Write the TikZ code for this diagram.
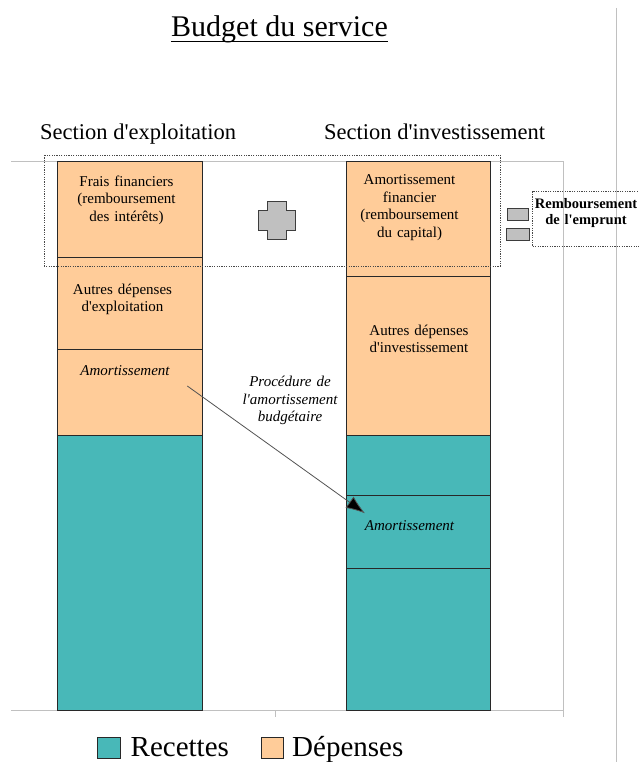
\documentclass[tikz,border=0pt]{standalone}
\usepackage{fontspec}
\setmainfont{Liberation Serif}[Ligatures=TeXOff]
\usetikzlibrary{arrows.meta,calc}
\definecolor{recette}{RGB}{72,184,184}
\definecolor{depense}{RGB}{255,204,153}
\definecolor{axisgray}{RGB}{192,192,192}
\definecolor{symgray}{RGB}{192,192,192}
\definecolor{edge}{RGB}{40,40,40}
\begin{document}
\begin{tikzpicture}[x=1pt,y=-1pt,
  seg/.style={draw=edge,line width=0.8pt},
  depbox/.style={seg,fill=depense},
  recbox/.style={seg,fill=recette},
  axis/.style={draw=axisgray,line width=0.9pt},
  groupframe/.style={draw=edge!85,line width=0.8pt,dash pattern=on 1.2pt off 1.2pt},
  symbol/.style={draw=edge!90,fill=symgray,line width=0.8pt},
  bartext/.style={font=\fontsize{15}{17.5}\selectfont,text width=160pt,align=center,inner sep=0pt,anchor=base},
  headtext/.style={font=\fontsize{22.5}{27}\selectfont,inner sep=0pt,anchor=base west},
  legtext/.style={font=\fontsize{29}{33}\selectfont,inner sep=0pt,anchor=base west},
  flow/.style={draw=edge!80,line width=0.8pt,-{Latex[length=19pt,width=14pt,fill=black]}}
]
\useasboundingbox (0,0) rectangle (639,762);

% page guide on the right
\draw[axis] (616,8) -- (616,762);

% chart frame
\draw[axis] (11,161.7) -- (563,161.7) -- (563,716.7);
\draw[axis] (11,710.7) -- (563,710.7);
\draw[axis] (275,710.7) -- (275,716.7);

% title and section headings
\node[font=\fontsize{30}{36}\selectfont,inner sep=0pt,anchor=base] (title) at (279.5,36.7) {Budget du service};
\draw[line width=1.4pt] ($(title.base west)+(0,5)$) -- ($(title.base east)+(0,5)$);
\node[headtext] (hexpl) at (40,140) {Section d'exploitation};
\node[headtext] (hinv) at (324,140) {Section d'investissement};

% left bar: section d'exploitation
\path[depbox] (57.7,161.7) rectangle (202.3,257.3);
\path[depbox] (57.7,257.3) rectangle (202.3,349.3);
\path[depbox] (57.7,349.3) rectangle (202.3,435.7);
\path[recbox] (57.7,435.7) rectangle (202.3,710.7);

% right bar: section d'investissement
\path[depbox] (346,161.7) rectangle (490,276);
\path[depbox] (346,276) rectangle (490,435.7);
\path[recbox] (346,435.7) rectangle (490,495.7);
\path[recbox] (346,495.7) rectangle (490,568.3);
\path[recbox] (346,568.3) rectangle (490,710.7);

% texts of the left bar
\node[bartext] (frais) at (126.5,186) {Frais financiers\\(remboursement\\des intérêts)};
\node[bartext] (autexp) at (122.5,294) {Autres dépenses\\d'exploitation};
\node[bartext,font=\fontsize{15}{17.5}\selectfont\itshape] (amexp) at (125,375) {Amortissement};

% texts of the right bar
\node[bartext] (amfin) at (409.5,185) {Amortissement\\financier\\(remboursement\\du capital)};
\node[bartext] (autinv) at (419,335) {Autres dépenses\\d'investissement};
\node[bartext,font=\fontsize{15}{17.5}\selectfont\itshape] (aminv) at (409.5,530) {Amortissement};

% grouping of the debt repayment
\draw[groupframe] (44.3,155) rectangle (500.3,266);

% plus sign
\path[symbol] (258.3,210) -- (267.3,210) -- (267.3,201.7) -- (286,201.7) -- (286,210)
  -- (295,210) -- (295,230) -- (286,230) -- (286,239.3) -- (267.3,239.3)
  -- (267.3,230) -- (258.3,230) -- cycle;

% equals sign
\path[symbol] (507.7,208.3) rectangle (528.3,220.7);
\path[symbol] (506.7,228.3) rectangle (529.3,240);

% result box
\draw[groupframe] (645,191.7) -- (532,191.7) -- (532,246) -- (645,246);
\node[bartext,font=\fontsize{14.5}{16.5}\selectfont\bfseries] (remb) at (586,208) {Remboursement\\de l'emprunt};

% budgetary depreciation transfer
\node[bartext,font=\fontsize{15}{17.5}\selectfont\itshape] (proc) at (290,386.7) {Procédure de\\l'amortissement\\budgétaire};
\coordinate (arrS) at (187.3,386);
\coordinate (arrE) at (365,513.3);
\draw[flow] (arrS) -- (arrE);

% legend
\path[recbox] (97,737) rectangle (120.5,758);
\node[legtext] (lrec) at (130.5,756.5) {Recettes};
\path[depbox] (261,737) rectangle (283.5,758);
\node[legtext] (ldep) at (292,756.5) {Dépenses};
\end{tikzpicture}
\end{document}
